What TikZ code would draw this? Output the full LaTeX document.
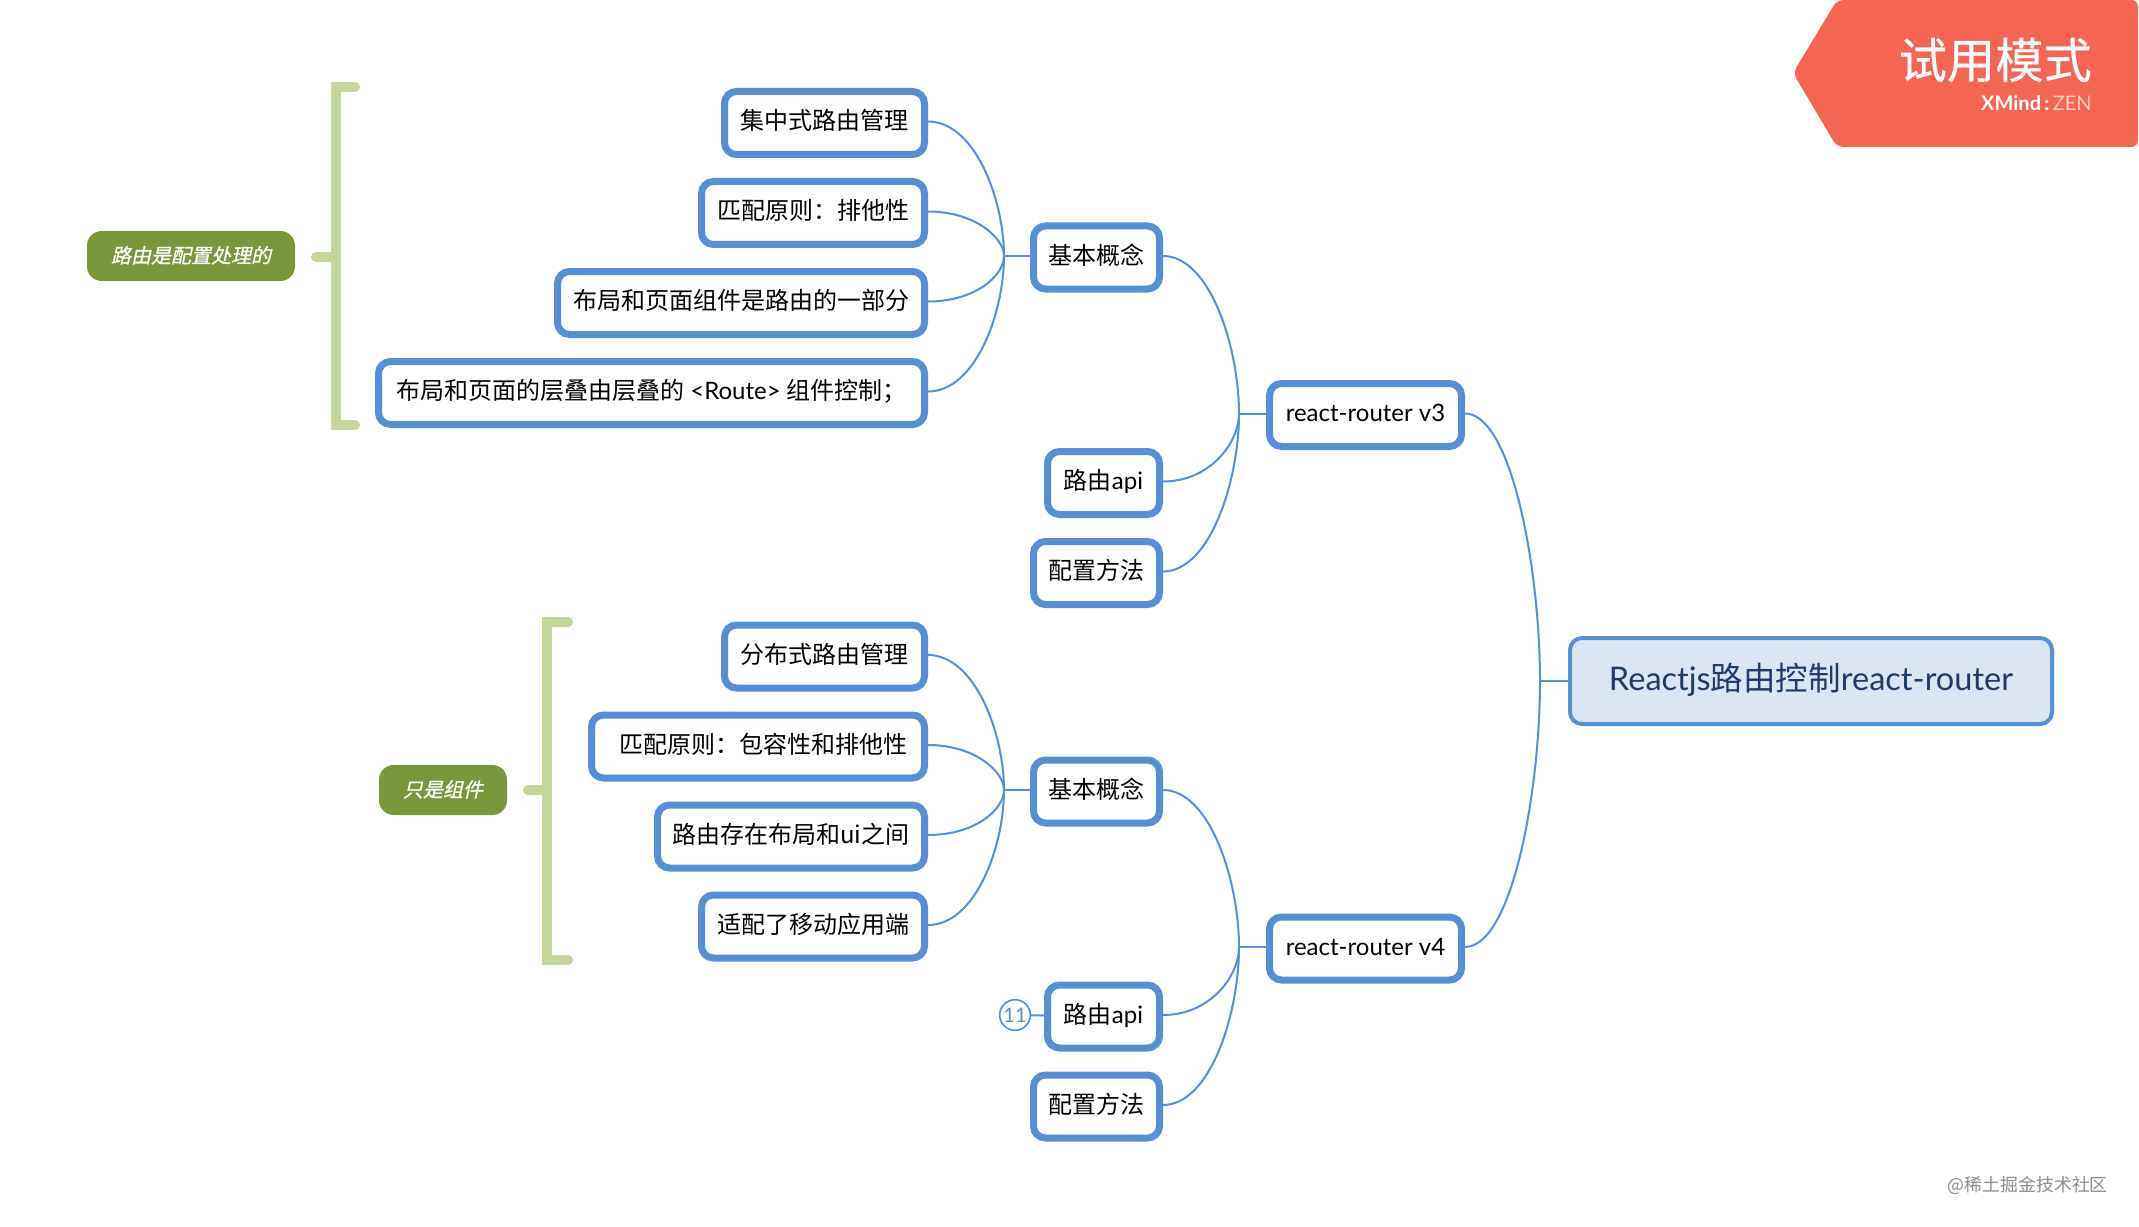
\documentclass[tikz,border=0pt]{standalone}
\usepackage{fontspec}
\setmainfont{Lato}
\newfontfamily\cjk{Noto Sans CJK SC}
\newfontfamily\cjkhead[FakeBold=0.4]{Noto Sans CJK SC}
\newfontfamily\cjkit[FakeSlant=0.22,FakeBold=0.8]{Noto Sans CJK SC}
\usetikzlibrary{calc}
\definecolor{bl}{HTML}{568FD8}
\definecolor{rib}{HTML}{F46552}
\definecolor{lbg}{HTML}{7A963B}
\definecolor{brk}{HTML}{C4D69B}
\definecolor{rootf}{HTML}{DCE6F2}
\definecolor{rootc}{HTML}{1F3A68}
\tikzset{
  x=0.75pt,y=-0.75pt,
  topic/.style={draw=bl,line width=5.25pt,fill=white,rounded corners=9pt,inner sep=0pt,
    font=\fontsize{18pt}{20pt}\selectfont,text=black,text height=1.04em,text depth=0pt},
  rootnode/.style={draw=bl,line width=3pt,fill=rootf,rounded corners=9pt,inner sep=0pt,
    font=\fontsize{24.4pt}{28pt}\selectfont,text=rootc,text height=1.35em,text depth=0pt},
  lab/.style={fill=lbg,rounded corners=11pt,inner sep=0pt,text=white,
    font=\fontsize{15pt}{18pt}\selectfont,text height=1.04em,text depth=0pt},
  link/.style={draw=bl,line width=1.5pt},
  armline/.style={draw=brk,line width=7.5pt,line cap=round},
  spine/.style={draw=brk,line width=7.5pt},
}
\newcommand{\bx}[5]{\node[topic,minimum width={(#3-#2-7)*0.75pt},minimum height=47.25pt] (#1) at ({(#2+#3)/2},{#4+1.5}) {#5};}
\newcommand{\crv}[2]{\draw[link] ($(#1.east)+(0,-1.5)$) .. controls ($(#1.east)!0.62!(#2|-#1.east)+(0,-1.5)$) and ($(#2)!0.42!(#2|-#1.east)$) .. (#2);}
\begin{document}
\begin{tikzpicture}
\useasboundingbox[fill=white] (0,0) rectangle (2139,1227);
% ribbon
\fill[rib,rounded corners=5pt] (2138,0) -- (1837,0) -- (1793,73) -- (1837,147) -- (2138,147) -- cycle;
\node[text=white,inner sep=0pt,anchor=east,font=\cjkhead\fontsize{36.2pt}{40pt}\selectfont] (trial) at (2092,60) {试用模式};
\node[text=white,inner sep=0pt,anchor=east,font=\fontsize{15pt}{16pt}\selectfont] (brand) at (2092,103) {\textbf{XMind\,:\,}\textcolor{white!70!rib}{ZEN}};
\node[text=black!45,inner sep=0pt,anchor=east,font=\cjk\fontsize{13.4pt}{16pt}\selectfont] (wm) at (2108,1185) {@稀土掘金技术社区};
% junctions
\coordinate (j0) at (1540,681);
\coordinate (j1) at (1239,413.5);
\coordinate (j2) at (1239,947);
\coordinate (j11) at (1004,256);
\coordinate (j21) at (1004,790);
% nodes
\node[rootnode,minimum width={(2054-1568-4)*0.75pt},minimum height=64.5pt] (root) at (1811,681) {Reactjs{\cjk 路由控制}react-router};
\bx{v3}{1266}{1465}{413.5}{react-router v3}
\bx{v4}{1266}{1465}{947}{react-router v4}
\bx{a}{1030}{1163}{256}{\cjk 基本概念}
\bx{b}{1044}{1163}{481.5}{{\cjk 路由}api}
\bx{c}{1030}{1163}{571.5}{\cjk 配置方法}
\bx{d}{1030}{1163}{790}{\cjk 基本概念}
\bx{e}{1044}{1163}{1015}{{\cjk 路由}api}
\bx{f}{1030}{1163}{1105}{\cjk 配置方法}
\bx{a1}{721}{928}{121.5}{\cjk 集中式路由管理}
\bx{a2}{698}{928}{211.5}{\cjk 匹配原则：排他性}
\bx{a3}{554}{928}{301.5}{\cjk 布局和页面组件是路由的一部分}
\bx{a4}{375}{928}{391.5}{{\cjk 布局和页面的层叠由层叠的} <Route> {\cjk 组件控制；}}
\bx{d1}{721}{928}{655}{\cjk 分布式路由管理}
\bx{d2}{588}{928}{745}{\hspace*{8pt}{\cjk 匹配原则：包容性和排他性}}
\bx{d3}{654}{928}{835}{\cjk 路由存在布局和ui之间}
\bx{d4}{698}{928}{925}{\cjk 适配了移动应用端}
% connectors
\crv{v3}{j0}\crv{v4}{j0}
\draw[link] (j0) -- (root.west);
\crv{a}{j1}\crv{b}{j1}\crv{c}{j1}
\draw[link] (j1) -- (j1-|v3.west);
\crv{d}{j2}\crv{e}{j2}\crv{f}{j2}
\draw[link] (j2) -- (j2-|v4.west);
\crv{a1}{j11}\crv{a2}{j11}\crv{a3}{j11}\crv{a4}{j11}
\draw[link] (j11) -- (j11-|a.west);
\crv{d1}{j21}\crv{d2}{j21}\crv{d3}{j21}\crv{d4}{j21}
\draw[link] (j21) -- (j21-|d.west);
% badge
\node[circle,draw=bl,line width=1.2pt,fill=white,minimum size=23pt,inner sep=0pt,text=bl,font=\fontsize{15pt}{16pt}\selectfont] (num) at (1015,1015) {11};
\draw[link] (num) -- (e);
% labels
\node[lab,minimum width=156pt,minimum height=37.5pt] (l1) at (191,256) {\cjkit 路由是配置处理的};
\node[lab,minimum width=96pt,minimum height=37.5pt] (l2) at (443,790) {\cjkit 只是组件};
% brackets
\coordinate (s1t) at (335.5,82); \coordinate (s1b) at (335.5,430); \coordinate (s1m) at (335.5,257);
\coordinate (s1l) at (316,257); \coordinate (s1tr) at (355,87); \coordinate (s1br) at (355,425);
\draw[armline] (s1l) -- (s1m);
\draw[armline] (s1tr) -- (s1tr-|s1m);
\draw[armline] (s1br) -- (s1br-|s1m);
\draw[spine] (s1t) -- (s1b);
\coordinate (s2t) at (547,617); \coordinate (s2b) at (547,965); \coordinate (s2m) at (547,790);
\coordinate (s2l) at (528,790); \coordinate (s2tr) at (568,622); \coordinate (s2br) at (568,960);
\draw[armline] (s2l) -- (s2m);
\draw[armline] (s2tr) -- (s2tr-|s2m);
\draw[armline] (s2br) -- (s2br-|s2m);
\draw[spine] (s2t) -- (s2b);
\end{tikzpicture}
\end{document}
